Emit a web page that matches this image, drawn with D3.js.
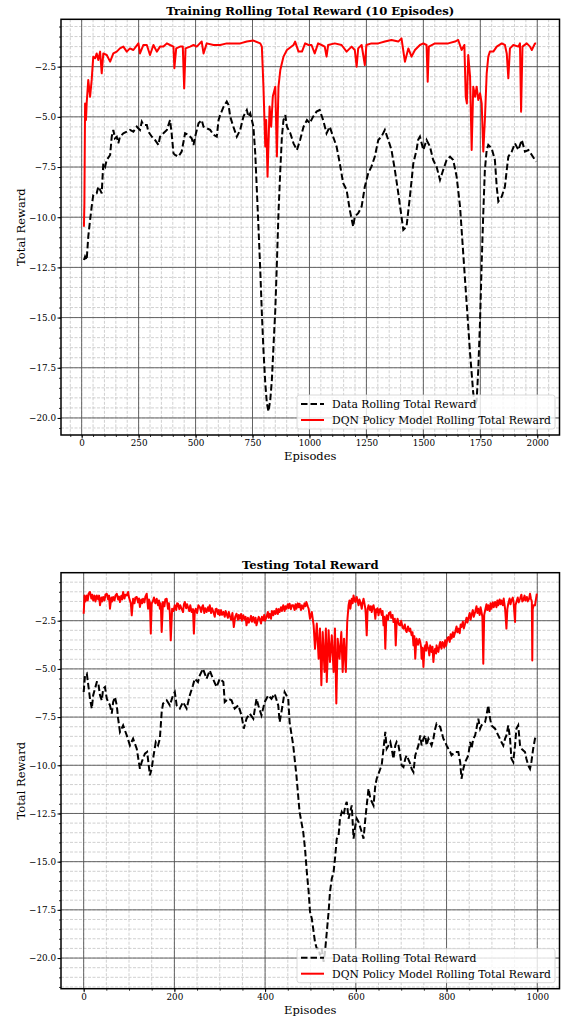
<!DOCTYPE html>
<html lang="en">
<head>
<meta charset="UTF-8">
<title>Training / Testing Total Reward</title>
<script src="https://d3js.org/d3.v7.min.js"></script>
<style>
    body { margin: 0; background: #fff; }
    svg { display: block; font-family: "DejaVu Serif", serif; }
    .grid-minor { stroke: #c4c4c4; stroke-width: 0.8; stroke-dasharray: 3,1.5; }
    .grid-major { stroke: #555; stroke-width: 0.9; }
    .tick text { font-family: "DejaVu Serif", serif; font-size: 8.8px; fill: #000; }
    .tick line { stroke: #000; }
    .title { font-size: 11.6px; font-weight: bold; text-anchor: middle; }
    .axis-label { font-size: 11.5px; text-anchor: middle; }
    .legend text { font-size: 10.8px; }
</style>
</head>
<body>
<svg id="chart" width="563" height="1019"></svg>
<script>
// ---- training (rolling 10 episodes) ----
const trainDataEp = [
    10, 15, 22, 29, 37, 44, 51, 66, 73, 81,
    88, 95, 103, 110, 125, 132, 139, 146, 154, 161,
    168, 183, 198, 212, 227, 242, 256, 264, 271, 286,
    293, 308, 322, 337, 344, 359, 374, 388, 395, 403,
    410, 425, 439, 454, 469, 483, 491, 498, 513, 527,
    535, 549, 564, 579, 593, 601, 608, 623, 637, 645,
    652, 666, 681, 696, 710, 725, 732, 740, 747, 754,
    762, 769, 776, 784, 791, 798, 806, 813, 820, 828,
    835, 842, 850, 857, 864, 872, 879, 886, 894, 901,
    916, 930, 945, 959, 974, 989, 1001, 1016, 1031, 1045,
    1060, 1075, 1089, 1104, 1119, 1133, 1148, 1163, 1177, 1192,
    1199, 1214, 1229, 1243, 1258, 1272, 1287, 1302, 1316, 1331,
    1346, 1360, 1375, 1390, 1404, 1412, 1426, 1441, 1456, 1470,
    1477, 1485, 1500, 1514, 1529, 1543, 1558, 1573, 1587, 1602,
    1617, 1631, 1646, 1661, 1675, 1690, 1705, 1719, 1727, 1734,
    1741, 1749, 1756, 1763, 1770, 1778, 1785, 1800, 1814, 1822,
    1829, 1844, 1858, 1866, 1873, 1888, 1902, 1917, 1932, 1946,
    1961, 1976, 1990, 1995
];
const trainData = [
    -12.13, -11.96, -12.13, -10.97, -10.14, -9.47, -8.89, -8.81, -8.48, -8.64,
    -8.81, -7.31, -7.48, -7.15, -6.9, -5.99, -5.65, -6.07, -5.99, -6.32,
    -5.99, -5.82, -5.74, -5.65, -5.74, -5.49, -5.65, -5.24, -5.4, -5.4,
    -5.74, -5.99, -6.15, -6.4, -5.99, -5.82, -5.65, -5.16, -5.82, -6.82,
    -6.9, -6.98, -6.73, -5.82, -5.9, -6.07, -6.4, -5.99, -5.32, -5.16,
    -5.49, -5.57, -5.65, -5.9, -5.99, -5.16, -4.91, -4.49, -4.24, -4.41,
    -4.99, -5.49, -5.99, -5.65, -4.99, -4.66, -4.99, -4.82, -5.16, -5.49,
    -6.82, -8.64, -10.47, -12.63, -14.78, -16.61, -18.27, -19.27, -19.68, -19.1,
    -18.1, -16.44, -14.62, -12.29, -9.8, -7.65, -5.99, -5.16, -4.91, -5.49,
    -5.82, -6.32, -6.65, -6.15, -5.49, -5.16, -5.32, -4.99, -4.74, -4.66,
    -5.16, -5.82, -5.49, -5.99, -6.48, -7.31, -8.31, -8.64, -9.64, -10.47,
    -9.97, -9.8, -9.47, -8.48, -7.81, -7.48, -6.98, -6.15, -5.99, -5.65,
    -6.15, -6.65, -7.65, -8.81, -9.97, -10.63, -10.47, -8.97, -7.31, -6.65,
    -6.15, -5.99, -6.65, -6.15, -6.48, -7.15, -7.48, -8.14, -7.65, -7.15,
    -6.98, -7.15, -7.98, -9.47, -11.8, -14.28, -16.78, -18.77, -19.43, -19.1,
    -17.6, -15.12, -12.29, -9.8, -7.65, -6.65, -6.4, -6.57, -7.15, -8.48,
    -9.22, -8.97, -8.48, -7.65, -6.98, -6.73, -6.32, -6.65, -6.15, -6.73,
    -6.65, -6.9, -7.15, -7.23
];
const trainDqnEp = [
    10, 12, 15, 19, 22, 29, 37, 44, 51, 59,
    66, 73, 81, 88, 95, 110, 125, 139, 154, 168,
    183, 198, 212, 227, 249, 256, 271, 286, 300, 315,
    330, 344, 359, 374, 388, 403, 407, 415, 432, 444,
    450, 456, 476, 491, 505, 527, 535, 549, 579, 608,
    637, 666, 696, 725, 754, 784, 791, 798, 806, 810,
    816, 825, 832, 839, 850, 857, 864, 872, 879, 886,
    901, 930, 937, 952, 967, 981, 996, 1009, 1023, 1038,
    1053, 1067, 1075, 1082, 1111, 1141, 1163, 1185, 1199, 1207,
    1214, 1229, 1243, 1250, 1272, 1302, 1331, 1360, 1390, 1404,
    1419, 1434, 1448, 1463, 1485, 1500, 1514, 1519, 1524, 1551,
    1580, 1609, 1639, 1653, 1668, 1680, 1686, 1691, 1697, 1705,
    1712, 1719, 1727, 1734, 1741, 1749, 1756, 1763, 1770, 1778,
    1785, 1792, 1807, 1822, 1844, 1858, 1866, 1873, 1880, 1895,
    1917, 1924, 1929, 1935, 1954, 1968, 1976, 1990, 1995
];
const trainDqn = [
    -10.47, -9.31, -4.33, -5.16, -4.33, -3.16, -4.0, -3.16, -2.0, -2.08,
    -1.84, -2.17, -1.75, -2.83, -1.84, -1.92, -2.25, -1.84, -1.75, -1.59,
    -1.5, -1.75, -1.59, -1.67, -1.34, -1.84, -1.42, -1.42, -1.92, -1.42,
    -1.75, -1.5, -1.5, -1.34, -1.42, -1.5, -2.58, -1.59, -1.5, -1.5,
    -3.58, -1.59, -1.5, -1.42, -1.5, -1.25, -1.84, -1.34, -1.42, -1.42,
    -1.34, -1.34, -1.34, -1.25, -1.2, -1.34, -1.5, -3.5, -6.48, -5.16,
    -7.98, -4.49, -5.49, -3.99, -3.5, -6.98, -3.5, -2.67, -2.33, -2.0,
    -1.67, -1.42, -1.25, -1.75, -1.75, -1.34, -1.42, -1.42, -1.84, -1.34,
    -1.42, -1.5, -2.0, -1.42, -1.34, -1.42, -1.75, -1.5, -1.67, -2.5,
    -1.59, -1.42, -2.42, -1.42, -1.34, -1.34, -1.25, -1.17, -1.25, -1.09,
    -2.25, -1.59, -2.0, -1.67, -1.42, -1.34, -1.42, -3.25, -1.5, -1.34,
    -1.34, -1.34, -1.25, -1.17, -1.67, -1.42, -4.0, -4.33, -1.92, -3.0,
    -6.65, -3.5, -4.0, -3.5, -4.16, -3.83, -4.33, -6.73, -5.16, -2.83,
    -2.0, -1.75, -1.75, -1.5, -1.34, -1.42, -1.84, -3.08, -1.59, -1.42,
    -1.5, -1.34, -4.74, -1.5, -1.34, -1.5, -1.67, -1.34, -1.34
];

// ---- testing ----
const testDataEp = [
    0, 3, 7, 14, 18, 21, 29, 32, 36, 40,
    43, 47, 51, 58, 62, 65, 69, 73, 76, 80,
    87, 95, 102, 109, 117, 124, 128, 135, 140, 146,
    150, 153, 159, 164, 168, 172, 175, 183, 190, 197,
    201, 205, 212, 219, 227, 234, 241, 245, 252, 256,
    263, 267, 271, 278, 285, 293, 300, 308, 311, 319,
    326, 333, 341, 348, 353, 359, 366, 374, 381, 385,
    392, 399, 407, 414, 421, 429, 432, 436, 443, 451,
    454, 462, 469, 476, 484, 488, 492, 496, 499, 503,
    507, 510, 514, 518, 521, 525, 529, 532, 536, 540,
    543, 547, 551, 554, 558, 562, 565, 569, 573, 577,
    580, 584, 591, 595, 599, 602, 606, 613, 617, 621,
    624, 628, 632, 639, 643, 646, 654, 657, 665, 668,
    672, 676, 679, 683, 687, 690, 694, 698, 701, 705,
    709, 712, 720, 723, 727, 731, 738, 742, 745, 749,
    753, 756, 760, 767, 771, 775, 778, 782, 786, 789,
    793, 797, 800, 808, 811, 819, 826, 830, 833, 837,
    841, 848, 852, 855, 859, 863, 866, 870, 874, 877,
    885, 888, 892, 896, 899, 907, 914, 921, 925, 929,
    932, 936, 940, 943, 947, 951, 954, 958, 962, 965,
    973, 976, 980, 984, 987, 991, 995, 999
];
const testData = [
    -6.2, -5.34, -5.25, -6.55, -7.06, -6.37, -5.68, -5.68, -6.37, -6.63,
    -6.03, -5.94, -6.55, -6.89, -7.32, -6.72, -6.46, -6.89, -7.58, -8.27,
    -7.93, -8.45, -8.97, -8.62, -9.14, -10.18, -9.83, -9.4, -9.31, -10.52,
    -10.18, -9.66, -8.79, -8.97, -8.62, -7.24, -6.8, -6.63, -6.89, -6.37,
    -6.2, -6.89, -7.06, -6.72, -7.06, -6.37, -5.85, -5.51, -5.68, -5.34,
    -4.99, -5.25, -5.51, -5.08, -5.51, -5.94, -5.51, -5.68, -6.72, -6.55,
    -6.63, -7.06, -6.89, -7.41, -8.1, -7.58, -7.32, -7.58, -6.55, -6.89,
    -7.41, -6.72, -6.37, -6.55, -6.29, -6.89, -7.76, -7.24, -6.2, -6.55,
    -7.76, -8.97, -10.52, -12.42, -13.46, -14.33, -15.54, -16.57, -17.6, -17.96,
    -18.65, -19.17, -19.52, -19.52, -19.86, -19.52, -20.2, -19.69, -18.65, -17.6,
    -16.57, -15.88, -15.54, -14.85, -13.81, -13.64, -12.77, -12.42, -12.6, -12.08,
    -11.9, -12.77, -12.08, -13.81, -13.12, -12.77, -12.94, -13.46, -13.81, -12.77,
    -12.08, -11.21, -11.73, -12.08, -11.04, -10.7, -10.18, -10.0, -8.27, -9.14,
    -8.97, -8.79, -9.14, -9.66, -8.97, -8.79, -8.97, -9.49, -10.0, -10.09,
    -9.66, -9.49, -9.92, -10.18, -10.35, -9.49, -8.97, -8.45, -8.97, -8.62,
    -8.45, -8.97, -8.62, -8.97, -8.62, -8.1, -7.84, -7.93, -8.01, -8.27,
    -8.62, -8.79, -8.97, -9.31, -9.48, -9.31, -9.31, -9.83, -10.7, -10.18,
    -9.83, -9.49, -8.79, -9.14, -8.62, -8.45, -8.1, -7.58, -8.1, -7.93,
    -7.76, -7.41, -6.89, -7.58, -7.93, -8.1, -8.45, -8.79, -8.97, -8.62,
    -8.45, -7.93, -8.62, -9.66, -9.83, -8.97, -8.1, -7.93, -8.97, -9.14,
    -9.31, -9.66, -10.0, -10.18, -9.83, -9.14, -8.62, -8.45
];
const testDqnEp = [
    0, 2, 4, 7, 9, 11, 14, 17, 19, 21,
    24, 26, 29, 32, 34, 36, 39, 41, 43, 46,
    48, 51, 54, 56, 58, 61, 63, 65, 68, 70,
    73, 76, 78, 80, 83, 85, 87, 90, 92, 95,
    98, 100, 102, 104, 106, 109, 112, 114, 117, 120,
    122, 124, 127, 129, 131, 134, 136, 139, 142, 144,
    146, 148, 150, 152, 155, 158, 161, 164, 166, 168,
    170, 172, 175, 178, 180, 183, 186, 188, 190, 192,
    195, 198, 201, 204, 206, 208, 211, 213, 216, 219,
    221, 223, 226, 228, 230, 233, 235, 238, 241, 243,
    245, 247, 250, 253, 256, 259, 261, 263, 266, 268,
    271, 274, 276, 278, 281, 283, 286, 289, 291, 293,
    296, 298, 300, 303, 305, 308, 311, 313, 315, 318,
    320, 322, 325, 328, 331, 334, 337, 340, 342, 344,
    347, 349, 352, 355, 357, 359, 362, 364, 366, 369,
    371, 374, 377, 379, 381, 384, 386, 388, 391, 393,
    396, 398, 400, 403, 406, 408, 410, 413, 415, 418,
    420, 423, 425, 428, 430, 432, 435, 437, 440, 443,
    445, 447, 450, 452, 454, 457, 459, 462, 465, 467,
    469, 472, 474, 476, 479, 481, 484, 487, 489, 491,
    494, 496, 499, 503, 507, 510, 514, 518, 521, 524,
    527, 531, 534, 536, 540, 543, 547, 551, 554, 557,
    560, 564, 568, 571, 574, 578, 581, 584, 586, 588,
    590, 591, 593, 595, 597, 599, 601, 602, 604, 606,
    608, 610, 612, 613, 615, 617, 619, 621, 622, 624,
    626, 628, 631, 633, 635, 637, 639, 641, 643, 645,
    646, 648, 650, 652, 654, 657, 659, 661, 663, 665,
    667, 668, 671, 673, 676, 678, 681, 683, 686, 688,
    690, 692, 695, 698, 700, 703, 705, 708, 710, 712,
    715, 718, 720, 723, 725, 727, 729, 731, 733, 734,
    737, 740, 742, 744, 745, 747, 749, 751, 753, 755,
    756, 758, 760, 762, 764, 766, 767, 769, 771, 773,
    775, 777, 778, 780, 782, 784, 786, 788, 789, 791,
    793, 795, 797, 799, 800, 802, 804, 807, 809, 811,
    814, 816, 819, 822, 824, 826, 829, 831, 833, 836,
    838, 841, 844, 846, 848, 851, 853, 855, 858, 860,
    863, 866, 868, 870, 873, 875, 877, 879, 881, 883,
    885, 888, 890, 892, 895, 897, 899, 902, 904, 907,
    910, 912, 914, 917, 919, 921, 924, 926, 929, 930,
    932, 934, 936, 939, 941, 943, 946, 948, 951, 952,
    954, 957, 959, 962, 965, 967, 969, 972, 974, 977,
    979, 982, 984, 986, 988, 989, 990, 992, 995, 997,
    999
];
const testDqn = [
    -2.14, -1.19, -1.5, -1.19, -1.45, -1.1, -1.01, -1.35, -1.15, -1.45,
    -1.2, -1.5, -1.19, -1.4, -1.2, -1.7, -1.3, -1.5, -1.27, -1.45,
    -1.15, -1.1, -1.4, -1.2, -1.88, -1.3, -1.5, -1.27, -1.45, -1.2,
    -1.1, -1.4, -1.25, -1.53, -1.2, -1.4, -1.01, -1.35, -1.15, -1.19,
    -1.01, -1.3, -1.45, -1.6, -2.22, -1.36, -1.6, -1.3, -1.27, -1.55,
    -1.35, -1.79, -1.4, -1.6, -1.36, -1.55, -1.25, -1.1, -1.88, -1.4,
    -1.53, -3.17, -1.6, -1.53, -1.3, -1.6, -1.36, -1.7, -1.45, -1.88,
    -1.6, -3.09, -1.53, -1.75, -1.4, -1.36, -1.88, -1.6, -2.1, -3.52,
    -1.88, -2.0, -1.7, -1.95, -1.6, -1.62, -1.9, -1.7, -1.88, -2.05,
    -1.65, -1.53, -1.85, -1.65, -1.79, -2.0, -1.7, -2.05, -1.9, -3.17,
    -2.0, -1.88, -2.1, -1.7, -1.79, -2.05, -1.8, -1.7, -2.1, -1.85,
    -2.05, -1.8, -2.0, -1.7, -2.1, -1.85, -2.05, -2.3, -1.9, -1.88,
    -2.15, -1.95, -2.22, -1.95, -2.2, -2.05, -2.3, -2.0, -2.14, -2.35,
    -2.05, -2.22, -2.45, -2.1, -2.83, -2.3, -2.14, -2.45, -2.2, -2.4,
    -2.15, -2.5, -2.22, -2.45, -2.3, -2.74, -2.35, -2.6, -2.48, -2.25,
    -2.55, -2.31, -2.6, -2.35, -2.74, -2.45, -2.3, -2.4, -2.65, -2.3,
    -2.48, -2.2, -2.5, -2.31, -2.05, -2.35, -2.14, -2.4, -2.0, -2.22,
    -2.0, -2.15, -1.88, -2.15, -1.9, -2.05, -1.8, -2.0, -1.7, -2.0,
    -1.75, -1.88, -1.65, -1.85, -1.62, -1.9, -1.7, -1.7, -1.95, -1.65,
    -1.88, -1.6, -1.8, -1.62, -1.95, -1.7, -1.88, -1.6, -1.75, -1.53,
    -1.75, -1.88, -2.4, -2.05, -2.74, -3.95, -2.65, -4.47, -2.91, -5.85,
    -3.09, -5.16, -2.91, -5.68, -3.0, -4.64, -3.26, -5.16, -2.91, -6.8,
    -3.43, -4.47, -3.09, -5.16, -3.43, -5.16, -2.57, -1.7, -1.45, -1.88,
    -1.5, -1.36, -1.6, -1.19, -1.45, -1.53, -1.3, -1.27, -1.5, -1.7,
    -1.4, -1.53, -1.75, -1.88, -1.55, -1.36, -1.6, -1.88, -2.2, -3.26,
    -1.9, -1.7, -1.95, -1.75, -2.05, -1.8, -1.7, -1.95, -2.4, -1.9,
    -2.05, -1.85, -2.22, -1.95, -1.88, -2.2, -2.0, -2.74, -2.3, -3.95,
    -2.5, -2.22, -2.45, -2.1, -2.05, -2.35, -2.2, -2.57, -2.4, -3.78,
    -2.6, -2.4, -2.7, -2.74, -2.5, -2.85, -2.91, -2.7, -3.0, -3.09,
    -2.8, -3.05, -2.91, -3.26, -3.1, -3.78, -3.3, -4.47, -3.6, -3.43,
    -3.75, -3.45, -3.6, -3.9, -4.47, -3.9, -4.9, -4.0, -3.78, -4.05,
    -3.6, -3.85, -3.95, -4.3, -3.78, -4.05, -4.12, -3.85, -4.64, -4.1,
    -3.95, -4.2, -3.78, -4.0, -4.12, -3.8, -3.6, -3.9, -3.95, -3.6,
    -3.69, -3.9, -3.52, -3.8, -3.69, -3.4, -3.35, -3.6, -3.2, -3.43,
    -3.1, -3.35, -3.09, -2.8, -3.1, -2.91, -3.15, -2.7, -2.83, -2.55,
    -2.9, -2.65, -2.35, -2.6, -2.4, -2.1, -2.45, -2.22, -1.95, -2.3,
    -2.05, -1.75, -2.1, -1.88, -2.2, -1.8, -2.05, -2.3, -4.73, -2.2,
    -1.97, -1.65, -1.95, -1.7, -2.0, -1.6, -1.88, -1.55, -1.8, -1.53,
    -1.8, -1.45, -1.7, -1.4, -1.65, -1.45, -1.7, -1.35, -1.88, -2.2,
    -2.91, -1.9, -1.62, -1.35, -1.65, -1.45, -1.3, -1.6, -2.57, -1.7,
    -1.53, -1.3, -1.55, -1.36, -1.15, -1.5, -1.45, -1.2, -1.45, -1.27,
    -1.5, -1.36, -1.1, -1.36, -1.5, -4.56, -1.9, -1.7, -1.7, -1.4,
    -1.1
];

// ---- ticks / labels ----
const trainXTicks = [0, 250, 500, 750, 1000, 1250, 1500, 1750, 2000];
const testXTicks = [0, 200, 400, 600, 800, 1000];
const yTicks = [-20, -17.5, -15, -12.5, -10, -7.5, -5, -2.5];
const seriesNames = ["Data Rolling Total Reward", "DQN Policy Model Rolling Total Reward"];

const svg = d3.select("#chart");

function drawPanel(p) {
    const g = svg.append("g");
    const x = d3.scaleLinear().domain(p.xDomain).range([p.left, p.right]);
    const y = d3.scaleLinear().domain(p.yDomain).range([p.bottom, p.top]);

    const xMinor = d3.range(-100, p.xDomain[1], p.xMinorStep)
        .filter(v => v > p.xDomain[0] && v < p.xDomain[1]);
    const yMinor = d3.range(-22, 0.001, 0.5)
        .filter(v => v > p.yDomain[0] && v < p.yDomain[1]);

    // minor grid
    g.append("g").selectAll("line").data(xMinor).join("line")
        .attr("class", "grid-minor")
        .attr("x1", d => x(d)).attr("x2", d => x(d))
        .attr("y1", p.top).attr("y2", p.bottom);
    g.append("g").selectAll("line").data(yMinor).join("line")
        .attr("class", "grid-minor")
        .attr("y1", d => y(d)).attr("y2", d => y(d))
        .attr("x1", p.left).attr("x2", p.right);

    // major grid
    g.append("g").selectAll("line").data(p.xTicks).join("line")
        .attr("class", "grid-major")
        .attr("x1", d => x(d)).attr("x2", d => x(d))
        .attr("y1", p.top).attr("y2", p.bottom);
    g.append("g").selectAll("line").data(yTicks).join("line")
        .attr("class", "grid-major")
        .attr("y1", d => y(d)).attr("y2", d => y(d))
        .attr("x1", p.left).attr("x2", p.right);

    svg.append("clipPath").attr("id", p.id + "-clip")
        .append("rect")
        .attr("x", p.left).attr("y", p.top)
        .attr("width", p.right - p.left).attr("height", p.bottom - p.top);

    const line = d3.line().x(d => x(d[0])).y(d => y(d[1]));
    const lines = g.append("g").attr("clip-path", `url(#${p.id}-clip)`);

    lines.append("path")
        .datum(d3.zip(p.dataEp, p.data))
        .attr("d", line)
        .attr("fill", "none")
        .attr("stroke", "#000")
        .attr("stroke-width", 2)
        .attr("stroke-dasharray", "6.5,3");

    lines.append("path")
        .datum(d3.zip(p.dqnEp, p.dqn))
        .attr("d", line)
        .attr("fill", "none")
        .attr("stroke", "#ff0000")
        .attr("stroke-width", 2)
        .attr("stroke-linejoin", "round");

    // axes
    g.append("g")
        .attr("transform", `translate(0,${p.bottom})`)
        .call(d3.axisBottom(x).tickValues(xMinor).tickSize(2).tickFormat(""))
        .call(a => a.select(".domain").remove())
        .call(a => a.selectAll(".tick line").attr("stroke-width", 0.8));
    g.append("g")
        .attr("transform", `translate(0,${p.bottom})`)
        .call(d3.axisBottom(x).tickValues(p.xTicks).tickSize(3.5).tickPadding(1.5).tickFormat(d3.format("d")))
        .call(a => a.select(".domain").remove());

    g.append("g")
        .attr("transform", `translate(${p.left},0)`)
        .call(d3.axisLeft(y).tickValues(yMinor).tickSize(2).tickFormat(""))
        .call(a => a.select(".domain").remove())
        .call(a => a.selectAll(".tick line").attr("stroke-width", 0.8));
    g.append("g")
        .attr("transform", `translate(${p.left},0)`)
        .call(d3.axisLeft(y).tickValues(yTicks).tickSize(3.5).tickPadding(1.5).tickFormat(d3.format(".1f")))
        .call(a => a.select(".domain").remove());

    // frame
    g.append("rect")
        .attr("x", p.left).attr("y", p.top)
        .attr("width", p.right - p.left).attr("height", p.bottom - p.top)
        .attr("fill", "none").attr("stroke", "#000").attr("stroke-width", 1.5);

    // texts
    g.append("text").attr("class", "title")
        .attr("x", (p.left + p.right) / 2).attr("y", p.top - 4)
        .text(p.title);
    g.append("text").attr("class", "axis-label")
        .attr("x", (p.left + p.right) / 2).attr("y", p.bottom + 25)
        .text("Episodes");
    g.append("text").attr("class", "axis-label")
        .attr("transform", `translate(25,${(p.top + p.bottom) / 2}) rotate(-90)`)
        .text("Total Reward");

    // legend
    const lx = 297, lw = 258, lh = 34, ly = p.bottom - 40;
    const lg = g.append("g").attr("class", "legend");
    lg.append("rect")
        .attr("x", lx).attr("y", ly).attr("width", lw).attr("height", lh)
        .attr("rx", 2.5)
        .attr("fill", "#fff").attr("fill-opacity", 0.8)
        .attr("stroke", "#d0d0d0").attr("stroke-width", 0.8);
    const styles = [
        { stroke: "#000", dash: "6.5,3" },
        { stroke: "#ff0000", dash: null }
    ];
    seriesNames.forEach((name, i) => {
        const cy = ly + 9 + i * 16;
        lg.append("line")
            .attr("x1", lx + 4).attr("x2", lx + 27)
            .attr("y1", cy).attr("y2", cy)
            .attr("stroke", styles[i].stroke)
            .attr("stroke-width", 2)
            .attr("stroke-dasharray", styles[i].dash);
        lg.append("text")
            .attr("x", lx + 35).attr("y", cy + 3.8)
            .text(name);
    });
}

drawPanel({
    id: "train",
    title: "Training Rolling Total Reward (10 Episodes)",
    left: 61, right: 559.5, top: 19.3, bottom: 435,
    xDomain: [-90.7, 2097.6], yDomain: [-20.85, -0.14],
    xTicks: trainXTicks, xMinorStep: 50,
    dataEp: trainDataEp, data: trainData,
    dqnEp: trainDqnEp, dqn: trainDqn
});

drawPanel({
    id: "test",
    title: "Testing Total Reward",
    left: 61, right: 559.5, top: 572.7, bottom: 988.7,
    xDomain: [-49.95, 1049], yDomain: [-21.59, -0.01],
    xTicks: testXTicks, xMinorStep: 50,
    dataEp: testDataEp, data: testData,
    dqnEp: testDqnEp, dqn: testDqn
});
</script>
</body>
</html>
